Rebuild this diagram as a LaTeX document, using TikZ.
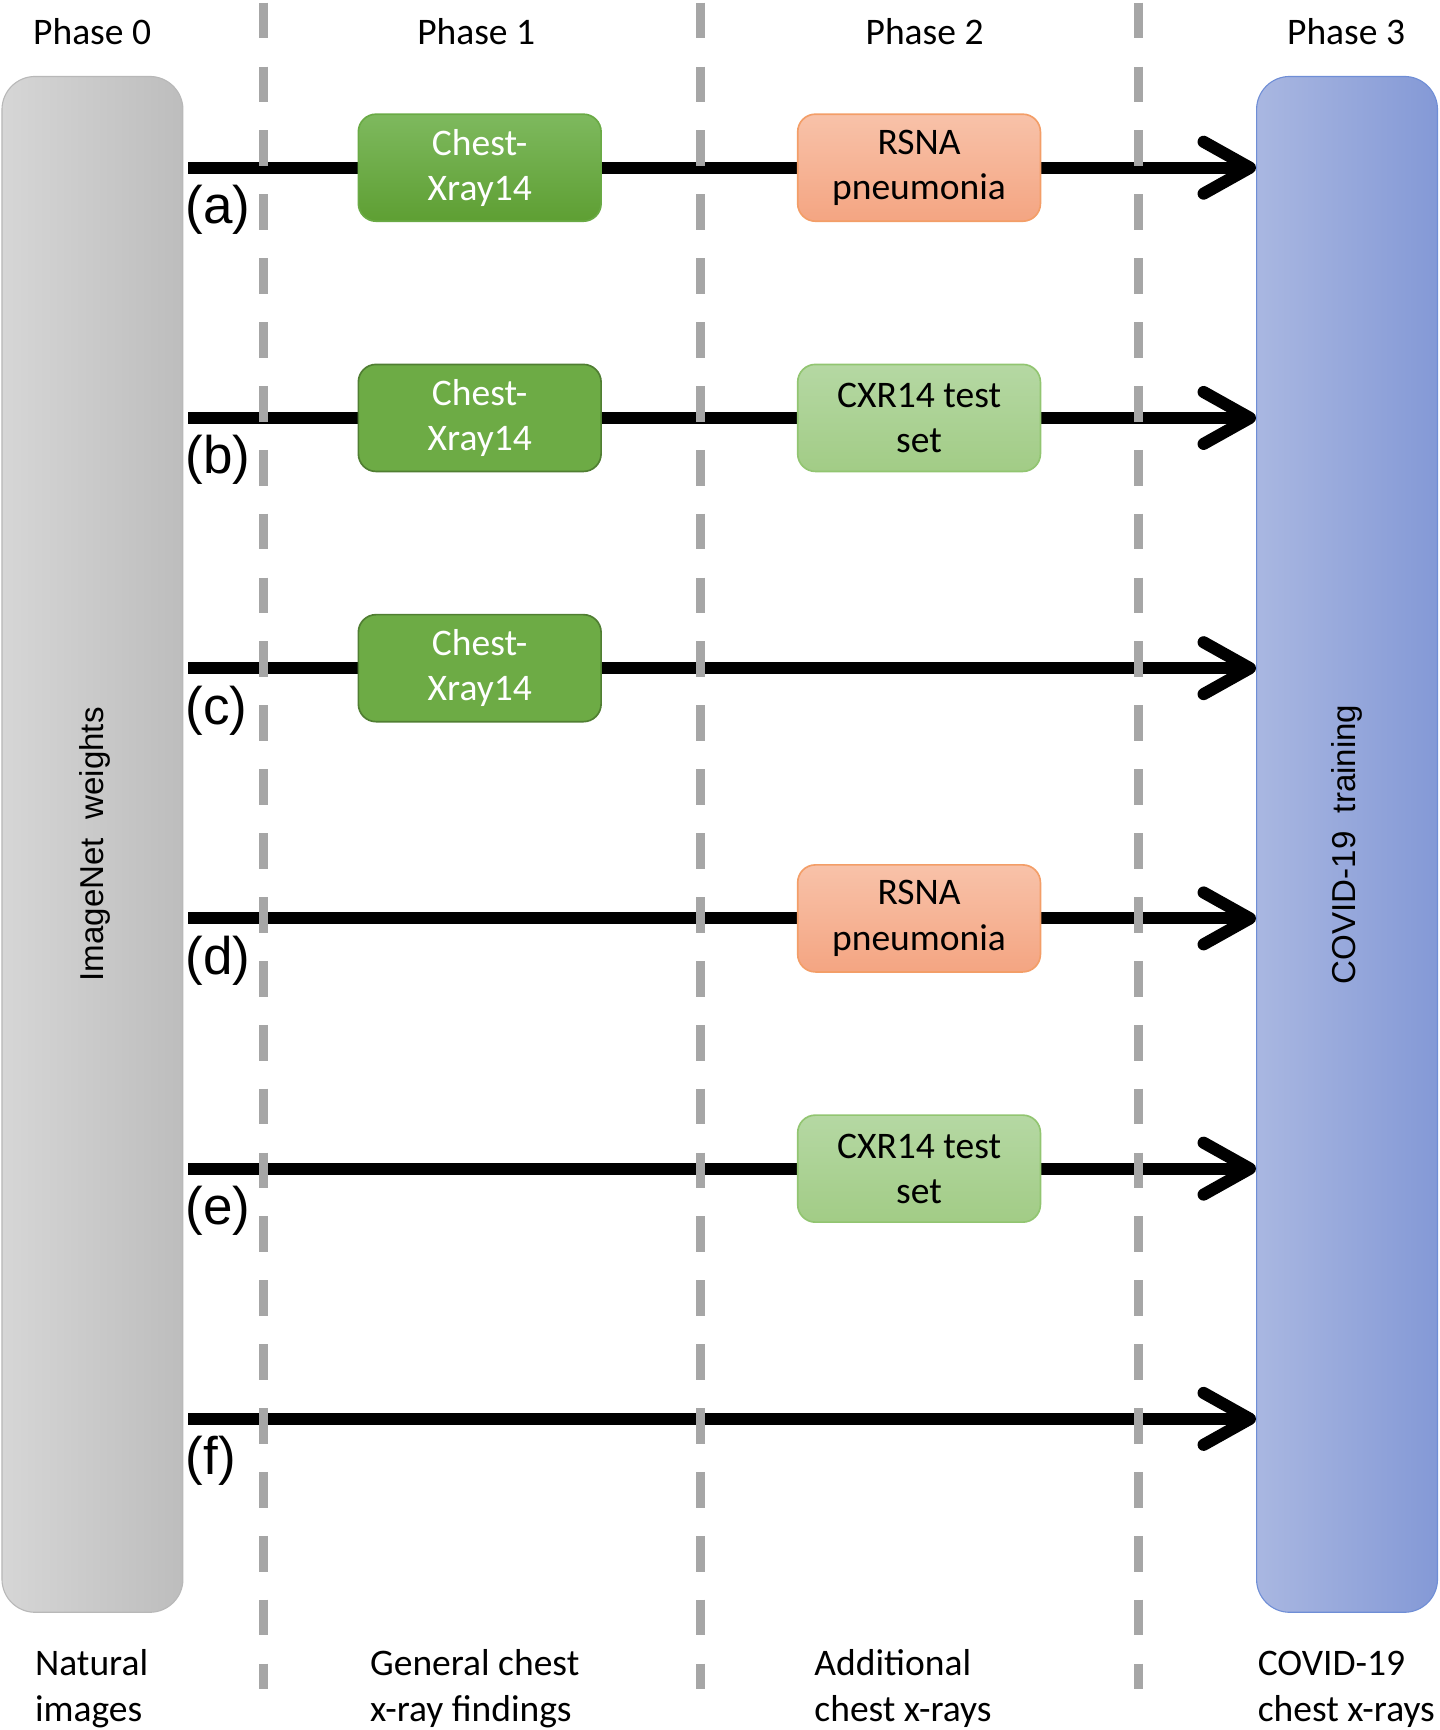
\documentclass[tikz,border=0pt]{standalone}
\usepackage{fontspec}
\setmainfont{Carlito}
\newfontfamily\arialfont{Liberation Sans}
\usetikzlibrary{arrows.meta,calc}
\definecolor{netleft}{HTML}{D6D6D6}
\definecolor{netright}{HTML}{BDBDBD}
\definecolor{netline}{HTML}{B8B8B8}
\definecolor{covleft}{HTML}{A9B7E1}
\definecolor{covright}{HTML}{8499D6}
\definecolor{covline}{HTML}{6F8ED6}
\definecolor{chestgreen}{HTML}{6DAB45}
\definecolor{chestline}{HTML}{507E32}
\definecolor{chesttop}{HTML}{7EB95E}
\definecolor{chestbot}{HTML}{5E9F33}
\definecolor{chestlight}{HTML}{6AAA45}
\definecolor{rsnatop}{HTML}{F8C2A9}
\definecolor{rsnabot}{HTML}{F4A582}
\definecolor{rsnaline}{HTML}{F39E68}
\definecolor{settop}{HTML}{B5D8A3}
\definecolor{setbot}{HTML}{A2CC86}
\definecolor{setline}{HTML}{92C571}
\definecolor{dashgray}{HTML}{A6A6A6}
\begin{document}
\begin{tikzpicture}[x=1pt,y=-1pt,font=\fontsize{34}{41}\selectfont]
        % Styles
        \tikzstyle{phase text}=[anchor=base,inner sep=0pt]
        \tikzstyle{note text}=[anchor=base west,inner sep=0pt,align=left]
        \tikzstyle{column box}=[rounded corners=30pt,minimum width=164pt,minimum height=1392pt,line width=1pt]
        \tikzstyle{side text}=[rotate=90,inner sep=0pt,font=\arialfont\fontsize{30}{36}\selectfont]
        \tikzstyle{data box}=[rounded corners=16pt,minimum width=220pt,minimum height=97pt,inner sep=0pt,align=center,line width=1.5pt]
        \tikzstyle{chest}=[data box,fill=chestgreen,draw=chestline,text=white]
        \tikzstyle{chest shaded}=[data box,top color=chesttop,bottom color=chestbot,draw=chestlight,text=white]
        \tikzstyle{rsna}=[data box,top color=rsnatop,bottom color=rsnabot,draw=rsnaline]
        \tikzstyle{testset}=[data box,top color=settop,bottom color=setbot,draw=setline]
        \tikzstyle{flow}=[line width=11pt,-{Straight Barb[length=42pt,width=47pt,round]}]
        \tikzstyle{phase line}=[line width=8pt,color=dashgray,dash pattern=on 32.4pt off 25.5pt]
        \tikzstyle{row label}=[anchor=base west,inner sep=0pt,font=\arialfont\fontsize{48}{58}\selectfont]
        \useasboundingbox (0,0) rectangle (1305,1568);
        %The graphic
        %side columns
        \node[column box,left color=netleft,right color=netright,draw=netline] (imagenet) at (83.8,765.3) {};
        \node[column box,left color=covleft,right color=covright,draw=covline] (covid) at (1220.9,765.3) {};
        \node[side text] (imagenettext) at ($(imagenet.center)+(2,0)$) {ImageNet\ \ weights};
        \node[side text] (covidtext) at (covid.center) {COVID-19\ \ training};
        %flows
        \foreach \r/\y in {a/152,b/378.8,c/605.6,d/832.4,e/1059.2,f/1286}
        {
            \coordinate (s\r) at (170.6,\y);
            \draw[flow] (s\r) -- (s\r -| covid.west);
            \node[row label] (l\r) at ($(s\r)+(-2.5,50.6)$) {(\r)};
        }
        %datasets
        \coordinate (p1) at (434.8,0);
        \coordinate (p2) at (833,0);
        \node[chest shaded] (p1a) at (p1 |- sa) {Chest-\\Xray14};
        \node[rsna] (p2a) at (p2 |- sa) {RSNA\\pneumonia};
        \node[chest] (p1b) at (p1 |- sb) {Chest-\\Xray14};
        \node[testset] (p2b) at (p2 |- sb) {CXR14 test\\set};
        \node[chest] (p1c) at (p1 |- sc) {Chest-\\Xray14};
        \node[rsna] (p2d) at (p2 |- sd) {RSNA\\pneumonia};
        \node[testset] (p2e) at (p2 |- se) {CXR14 test\\set};
        %phase separators
        \foreach \x in {239,635,1031.5}
            \draw[phase line] (\x,2.4) -- (\x,1531);
        %phase titles
        \foreach \x/\n in {83.5/0,431.6/1,838/2,1220/3}
            \node[phase text] (phase\n) at (\x,40) {Phase \n};
        %phase notes
        \node[note text] (note0) at (31.6,1560) {Natural\\images};
        \node[note text] (note1) at (335.3,1560) {General chest\\x-ray findings};
        \node[note text] (note2) at (738,1560) {Additional\\chest x-rays};
        \node[note text] (note3) at (1139.8,1560) {COVID-19\\chest x-rays};
\end{tikzpicture}
\end{document}
